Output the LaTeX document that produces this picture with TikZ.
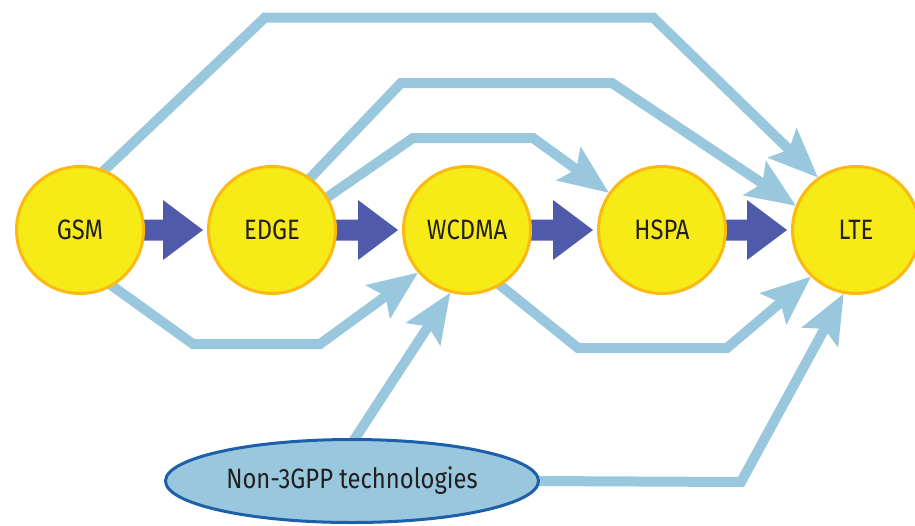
\documentclass[tikz,border=0pt]{standalone}
\usepackage{fontspec}
\setmainfont{Fira Sans}[FakeStretch=0.85]
\usetikzlibrary{arrows.meta,calc,shapes.geometric}
\pgfdeclarelayer{bg}
\pgfsetlayers{bg,main}
\definecolor{techyellow}{HTML}{F6EB16}
\definecolor{techorange}{HTML}{FDB913}
\definecolor{connblue}{HTML}{99C8DE}
\definecolor{fatblue}{HTML}{4F5AAA}
\definecolor{ellborder}{HTML}{1D5FA9}
\definecolor{textdark}{HTML}{231F20}
\tikzset{
  tech/.style={circle, minimum size=127pt, inner sep=0pt, fill=techyellow,
    draw=techorange, line width=3pt, text=textdark,
    font=\fontsize{28}{30}\selectfont},
  other/.style={ellipse, minimum width=373pt, minimum height=83pt, inner sep=0pt,
    fill=connblue, draw=ellborder, line width=3pt, text=textdark,
    font=\fontsize{28}{30}\selectfont},
  conn/.style={draw=connblue, line width=10pt, line join=miter,
    -{Stealth[length=50pt,width=42pt,inset=10pt,line width=0pt]}},
  fatarrow/.style={fill=fatblue}
}
\newcommand\fatarr[2]{%
  \fill[fatarrow] ($(#1.center)+(0,-10.5)$) -- ($(#2.west)+(-44,-10.5)$)
    -- ($(#2.west)+(-44,-30)$) -- ($(#2.west)+(-4,0)$)
    -- ($(#2.west)+(-44,30)$) -- ($(#2.west)+(-44,10.5)$)
    -- ($(#1.center)+(0,10.5)$) -- cycle;}
\begin{document}
\begin{tikzpicture}[x=1pt,y=-1pt]
\useasboundingbox (0,0) rectangle (915,525);
\node[tech] (gsm) at (80,230) {GSM};
\node[tech] (edge) at (272,230) {EDGE};
\node[tech] (wcdma) at (467,230) {WCDMA};
\node[tech] (hspa) at (662,230) {HSPA};
\node[tech] (lte) at (856,230) {LTE};
\node[other] (non) at (352,481) {Non-3GPP technologies};
\begin{pgfonlayer}{bg}
\fatarr{gsm}{edge}
\fatarr{edge}{wcdma}
\fatarr{wcdma}{hspa}
\fatarr{hspa}{lte}
\draw[conn] ($(gsm)+(14,-50)$) -- (265,17.5) -- (653,17.5) -- (lte.126);
\draw[conn] ($(edge)+(22,-35)$) -- (401,83) -- (612,83) -- (lte.158);
\draw[conn] ($(edge)+(44,-25)$) -- (413,138) -- (533,138) -- (hspa.145);
\draw[conn] ($(gsm)+(10,40)$) -- (193,344) -- (320,344) -- (wcdma.221);
\draw[conn] ($(wcdma)+(8,35)$) -- (578,348) -- (727,348) -- (lte.226);
\draw[conn] ($(non.north)+(-2,8)$) -- (wcdma.255);
\draw[conn] ($(non.east)+(-5,0)$) -- (741,482) -- (lte.259);
\end{pgfonlayer}
\end{tikzpicture}
\end{document}
